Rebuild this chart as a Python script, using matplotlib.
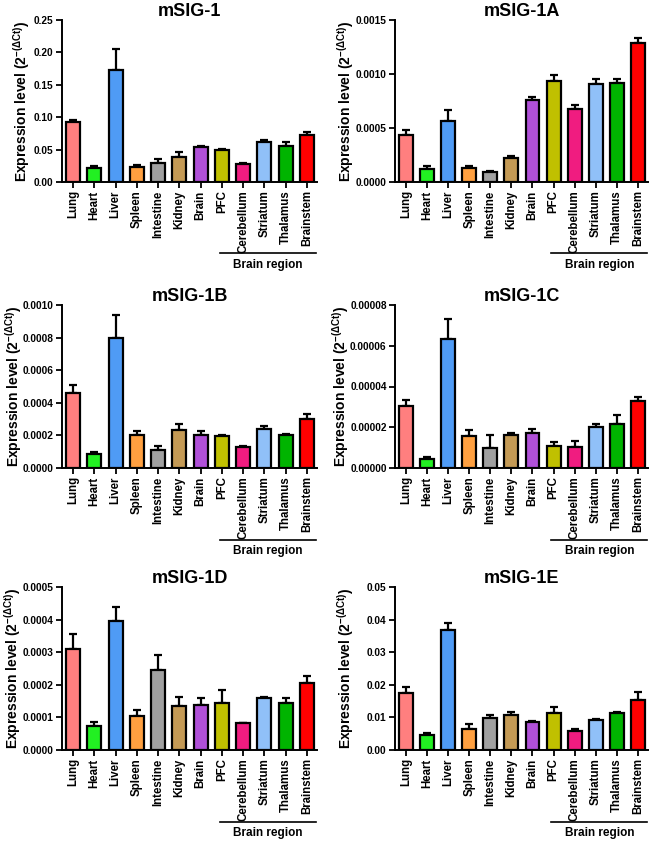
import matplotlib
matplotlib.use("Agg")
import matplotlib.pyplot as plt
import matplotlib.transforms as mtransforms
from matplotlib.ticker import FixedLocator, FormatStrFormatter

plt.rcParams['font.family'] = ['Liberation Sans', 'DejaVu Sans']
plt.rcParams['font.weight'] = 'bold'
plt.rcParams['mathtext.fontset'] = 'custom'
plt.rcParams['mathtext.rm'] = 'Liberation Sans:bold'
plt.rcParams['mathtext.bf'] = 'Liberation Sans:bold'
plt.rcParams['mathtext.it'] = 'Liberation Sans:bold'

categories = ["Lung", "Heart", "Liver", "Spleen", "Intestine", "Kidney", "Brain",
              "PFC", "Cerebellum", "Striatum", "Thalamus", "Brainstem"]
colors = ["#FF7F7F", "#22F022", "#4F9BF5", "#FFA040", "#A0A0A0", "#C49A55",
          "#B050D8", "#C0C000", "#F01C80", "#90C0F8", "#00B400", "#FF0000"]

titles = ["mSIG-1", "mSIG-1A", "mSIG-1B", "mSIG-1C", "mSIG-1D", "mSIG-1E"]

msig1 = [0.092, 0.021, 0.173, 0.023, 0.029, 0.038, 0.054, 0.050, 0.028, 0.062, 0.056, 0.072]
msig1_err = [0.003, 0.003, 0.033, 0.003, 0.006, 0.009, 0.002, 0.001, 0.001, 0.003, 0.005, 0.005]

msig1a = [0.000436, 0.000118, 0.000566, 0.000130, 0.000090, 0.000226, 0.000761,
          0.000931, 0.000674, 0.000903, 0.000915, 0.001287]
msig1a_err = [0.000043, 0.000030, 0.000100, 0.000020, 0.000010, 0.000015, 0.000030,
              0.000060, 0.000040, 0.000050, 0.000040, 0.000050]

msig1b = [0.000459, 0.000088, 0.000800, 0.000205, 0.000113, 0.000232, 0.000205,
          0.000199, 0.000127, 0.000238, 0.000203, 0.000299]
msig1b_err = [0.000050, 0.000010, 0.000140, 0.000022, 0.000024, 0.000036, 0.000020,
              0.000006, 0.000008, 0.000020, 0.000006, 0.000030]

msig1c = [3.06e-5, 4.3e-6, 6.31e-5, 1.58e-5, 9.7e-6, 1.61e-5, 1.74e-5,
          1.08e-5, 1.02e-5, 1.99e-5, 2.14e-5, 3.29e-5]
msig1c_err = [2.9e-6, 1.3e-6, 1.02e-5, 2.8e-6, 6.7e-6, 1.3e-6, 1.5e-6,
              2.2e-6, 3.0e-6, 1.6e-6, 4.4e-6, 2.1e-6]

msig1d = [0.000311, 0.0000724, 0.000395, 0.000105, 0.000244, 0.000136, 0.000139,
          0.000144, 0.0000816, 0.000158, 0.000143, 0.000205]
msig1d_err = [0.000045, 0.000015, 0.000045, 0.000017, 0.000047, 0.000027, 0.000020,
              0.000040, 0.000002, 0.000006, 0.000017, 0.000023]

msig1e = [0.01735, 0.0046, 0.0367, 0.0063, 0.0097, 0.0106, 0.0085,
          0.0113, 0.0057, 0.0091, 0.0112, 0.0152]
msig1e_err = [0.0020, 0.0006, 0.0024, 0.0016, 0.0011, 0.0012, 0.0003,
              0.0020, 0.0006, 0.0004, 0.0006, 0.0025]

yticks_list = [
    [0.00, 0.05, 0.10, 0.15, 0.20, 0.25],
    [0.0, 0.0005, 0.0010, 0.0015],
    [0.0, 0.0002, 0.0004, 0.0006, 0.0008, 0.0010],
    [0.0, 0.00002, 0.00004, 0.00006, 0.00008],
    [0.0, 0.0001, 0.0002, 0.0003, 0.0004, 0.0005],
    [0.00, 0.01, 0.02, 0.03, 0.04, 0.05],
]
yfmts = ["%.2f", "%.4f", "%.4f", "%.5f", "%.4f", "%.2f"]

values = [msig1, msig1a, msig1b, msig1c, msig1d, msig1e]
errors = [msig1_err, msig1a_err, msig1b_err, msig1c_err, msig1d_err, msig1e_err]

W, H = 655, 843
fig = plt.figure(figsize=(W / 100, H / 100), dpi=100)

# pixel boxes (left, top, right, bottom)
boxes = [
    (62, 20, 317, 182), (395, 20, 648, 182),
    (62, 305, 317, 468), (395, 305, 648, 468),
    (62, 587, 317, 750), (395, 587, 648, 750),
]
# y-label center x in pixels
ylabel_x = [22, 346, 14, 341, 13, 346]

x = list(range(len(categories)))
for i in range(6):
    l, t, r, b = boxes[i]
    ax = fig.add_axes([l / W, 1 - b / H, (r - l) / W, (b - t) / H])
    ax.bar(x, values[i], width=0.66, color=colors, edgecolor="black", linewidth=1.6, zorder=2)
    ax.errorbar(x, values[i], yerr=[[0] * len(x), errors[i]], fmt="none",
                ecolor="black", elinewidth=1.6, capsize=2.6, capthick=1.6, zorder=1)
    ax.set_xlim(-0.52, 11.48)
    yt = yticks_list[i]
    ax.set_ylim(0, yt[-1])
    ax.yaxis.set_major_locator(FixedLocator(yt))
    ax.yaxis.set_major_formatter(FormatStrFormatter(yfmts[i]))
    ax.set_xticks(x)
    ax.set_xticklabels(categories, rotation=90, fontsize=8.3, fontweight="bold")
    ax.tick_params(axis="y", labelsize=7.3, width=1.3, length=4, direction="out", pad=2)
    ax.tick_params(axis="x", width=1.3, length=4, direction="out", pad=2)
    for lab in ax.get_yticklabels():
        lab.set_fontweight("bold")
    for s in ["top", "right"]:
        ax.spines[s].set_visible(False)
    for s in ["left", "bottom"]:
        ax.spines[s].set_linewidth(1.4)
    ax.set_title(titles[i], fontsize=13, fontweight="bold", pad=2)
    ax.set_ylabel(r"Expression level (2$^{-(\Delta Ct)}$)", fontsize=10, fontweight="bold")
    ax.yaxis.label.set_va("center")
    ax.yaxis.set_label_coords((ylabel_x[i] - l) / (r - l), 0.5)
    trans = mtransforms.blended_transform_factory(ax.transData, ax.transAxes)
    ax.plot([6.9, 11.45], [-0.44, -0.44], color="black", lw=1.2, transform=trans, clip_on=False)
    ax.text(9.17, -0.51, "Brain region", transform=trans, ha="center", va="center",
            fontsize=8.5, fontweight="bold")

fig.savefig("out.png", dpi=100)
